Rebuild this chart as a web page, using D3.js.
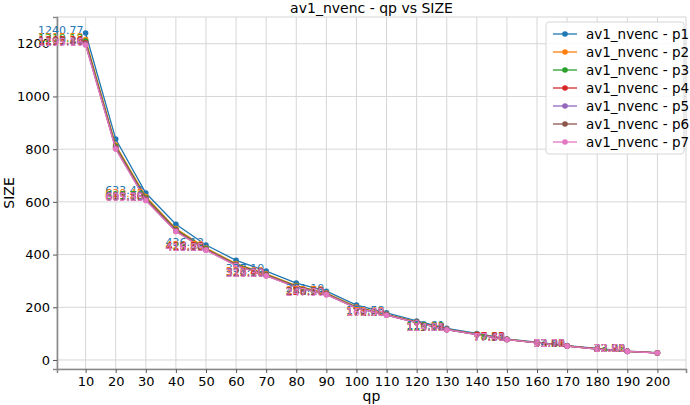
<!DOCTYPE html>
<html>
<head>
<meta charset="utf-8">
<script src="https://cdn.jsdelivr.net/npm/d3@7"></script>
<style>
  body { margin: 0; background: #fff; }
  text { font-family: "DejaVu Sans", sans-serif; }
</style>
</head>
<body>
<script>
"use strict";

///////////////////
// data
///////////////////
var qp = [10, 20, 30, 40, 50, 60, 70, 80, 90, 100, 110, 120, 130, 140, 150, 160, 170, 180, 190, 200];
var seriesNames = ["av1_nvenc - p1", "av1_nvenc - p2", "av1_nvenc - p3", "av1_nvenc - p4",
                   "av1_nvenc - p5", "av1_nvenc - p6", "av1_nvenc - p7"];
var p1 = [1240.77, 838.40, 633.42, 515.20, 436.12, 378.30, 337.10, 291.60, 261.10, 208.40, 178.58, 148.20, 119.81, 100.60, 79.88, 67.30, 54.46, 44.10, 33.55, 27.40];
var p2 = [1215.58, 815.20, 620.45, 498.30, 424.60, 366.10, 326.80, 282.40, 253.70, 201.30, 173.40, 144.30, 116.52, 97.90, 78.52, 66.10, 53.58, 42.20, 33.21, 27.00];
var p3 = [1210.12, 810.60, 615.70, 495.10, 421.80, 363.40, 324.20, 280.30, 251.60, 199.40, 172.20, 143.20, 116.03, 97.20, 78.11, 65.60, 53.22, 41.90, 33.02, 26.80];
var p4 = [1203.26, 806.40, 611.80, 492.20, 419.50, 361.20, 322.40, 278.30, 250.10, 198.30, 171.30, 142.60, 115.58, 96.80, 77.83, 65.30, 53.01, 41.60, 32.90, 26.70];
var p5 = [1199.84, 804.10, 609.33, 490.30, 418.20, 360.10, 321.20, 277.10, 249.20, 197.60, 170.60, 142.10, 115.24, 96.50, 77.61, 65.20, 52.90, 41.50, 32.80, 26.60];
var p6 = [1197.40, 802.20, 607.10, 488.80, 417.40, 359.00, 320.10, 276.50, 248.50, 197.00, 170.20, 141.80, 115.02, 96.30, 77.50, 65.10, 52.80, 41.40, 32.70, 26.60];
var p7 = [1195.16, 800.30, 605.35, 487.20, 416.85, 358.10, 319.30, 276.00, 247.90, 196.50, 169.98, 141.50, 114.81, 96.20, 77.40, 65.00, 52.70, 41.30, 32.60, 26.50];
var allSeries = [p1, p2, p3, p4, p5, p6, p7];
var xTicks = [10, 20, 30, 40, 50, 60, 70, 80, 90, 100, 110, 120, 130, 140, 150, 160, 170, 180, 190, 200];
var yTicks = [0, 200, 400, 600, 800, 1000, 1200];
var colors = ["#1f77b4", "#ff7f0e", "#2ca02c", "#d62728", "#9467bd", "#8c564b", "#e377c2"];

///////////////////
// layout
///////////////////
var W = 690, H = 405;
var margin = { left: 57, right: 4, top: 17, bottom: 36 };
var iw = W - margin.left - margin.right;
var ih = H - margin.top - margin.bottom;

// matplotlib style 5% padding
function padded(lo, hi) {
    var d = (hi - lo) * 0.05;
    return [lo - d, hi + d];
}
var allVals = d3.merge(allSeries);
var x = d3.scaleLinear().domain(padded(d3.min(qp), d3.max(qp))).range([0, iw]);
var y = d3.scaleLinear().domain(padded(d3.min(allVals), d3.max(allVals))).range([ih, 0]);

var svg = d3.select("body").append("svg")
    .attr("width", W).attr("height", H);
var g = svg.append("g").attr("transform", "translate(" + margin.left + "," + margin.top + ")");

// grid
g.append("g").selectAll("line").data(xTicks).enter().append("line")
    .attr("x1", function(d) { return x(d); }).attr("x2", function(d) { return x(d); })
    .attr("y1", 0).attr("y2", ih)
    .attr("stroke", "#d6d6d6").attr("stroke-width", 1);
g.append("g").selectAll("line").data(yTicks).enter().append("line")
    .attr("y1", function(d) { return y(d); }).attr("y2", function(d) { return y(d); })
    .attr("x1", 0).attr("x2", iw)
    .attr("stroke", "#d6d6d6").attr("stroke-width", 1);

// frame
g.append("rect").attr("width", iw).attr("height", ih)
    .attr("fill", "none").attr("stroke", "#d6d6d6").attr("stroke-width", 1);

// axes
var xAxis = g.append("g").attr("transform", "translate(0," + ih + ")")
    .call(d3.axisBottom(x).tickValues(xTicks).tickFormat(d3.format("d")).tickSize(4).tickPadding(4));
var yAxis = g.append("g")
    .call(d3.axisLeft(y).tickValues(yTicks).tickFormat(d3.format("d")).tickSize(4).tickPadding(3));
[xAxis, yAxis].forEach(function(a) {
    a.select(".domain").attr("stroke", "#8a8a8a").attr("stroke-width", 1.6);
    a.selectAll(".tick line").attr("stroke", "#555");
    a.selectAll(".tick text").attr("font-size", 13).attr("fill", "#000")
        .style("font-family", "DejaVu Sans, sans-serif");
});

// lines + markers
var line = d3.line()
    .x(function(d, i) { return x(qp[i]); })
    .y(function(d) { return y(d); });

allSeries.forEach(function(s, k) {
    g.append("path").datum(s)
        .attr("d", line)
        .attr("fill", "none")
        .attr("stroke", colors[k])
        .attr("stroke-width", 1.3);
    g.append("g").selectAll("circle").data(s).enter().append("circle")
        .attr("cx", function(d, i) { return x(qp[i]); })
        .attr("cy", function(d) { return y(d); })
        .attr("r", 2.8)
        .attr("fill", colors[k]);
});

// value labels on every other point (drawn above lines)
allSeries.forEach(function(s, k) {
    var pts = s.map(function(d, i) { return { q: qp[i], v: d }; })
        .filter(function(d, i) { return i % 2 === 0; });
    g.append("g").selectAll("text").data(pts)
        .enter().append("text")
        .attr("x", function(d) { return x(d.q) - 2; })
        .attr("y", function(d) { return y(d.v) + 1; })
        .attr("text-anchor", "end")
        .attr("font-size", 11)
        .attr("fill", colors[k])
        .text(function(d) { return d.v.toFixed(2); });
});

// titles
svg.append("text")
    .attr("x", margin.left + iw / 2).attr("y", 13)
    .attr("text-anchor", "middle").attr("font-size", 14)
    .text("av1_nvenc - qp vs SIZE");
svg.append("text")
    .attr("x", margin.left + iw / 2).attr("y", 401)
    .attr("text-anchor", "middle").attr("font-size", 14)
    .text("qp");
svg.append("text")
    .attr("transform", "translate(14," + (margin.top + ih / 2) + ") rotate(-90)")
    .attr("text-anchor", "middle").attr("font-size", 14)
    .text("SIZE");

// legend
var lg = svg.append("g").attr("transform", "translate(546,22)");
lg.append("rect").attr("width", 138).attr("height", 132).attr("rx", 3)
    .attr("fill", "rgba(255,255,255,0.85)").attr("stroke", "#d6d6d6");
seriesNames.forEach(function(name, k) {
    var yy = 12 + k * 18;
    lg.append("line").attr("x1", 7).attr("x2", 31).attr("y1", yy).attr("y2", yy)
        .attr("stroke", colors[k]).attr("stroke-width", 1.3);
    lg.append("circle").attr("cx", 19).attr("cy", yy).attr("r", 2.8).attr("fill", colors[k]);
    lg.append("text").attr("x", 40).attr("y", yy + 5)
        .attr("font-size", 13.5).text(name);
});
</script>
</body>
</html>
